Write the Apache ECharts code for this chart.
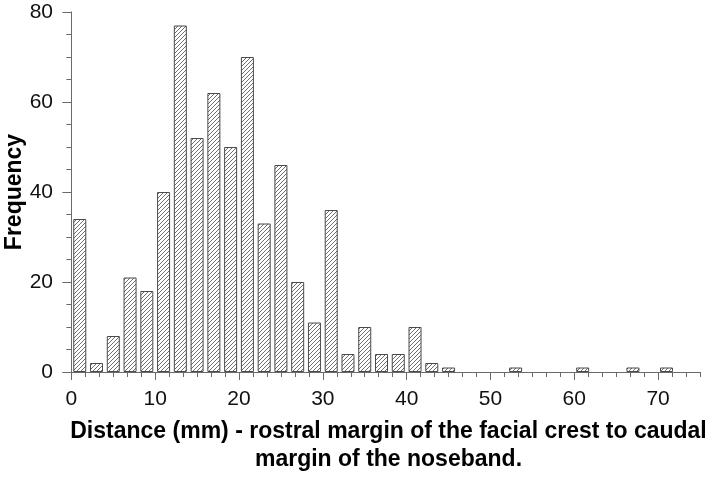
<!DOCTYPE html>
<html>
<head>
<meta charset="utf-8">
<script src="https://cdn.jsdelivr.net/npm/echarts@6/dist/echarts.min.js"></script>
<style>
html,body{margin:0;padding:0;background:#fff;}
#c{width:714px;height:481px;}
</style>
</head>
<body>
<div id="c"></div>
<script>
// Bin centres (mm), bins are 2 mm wide
const binCenters = [1,3,5,7,9,11,13,15,17,19,21,23,25,27,29,31,33,35,37,39,41,43,45,47,49,51,53,55,57,59,61,63,65,67,69,71];
const frequency  = [34,2,8,21,18,40,77,52,62,50,70,33,46,20,11,36,4,10,4,4,10,2,1,0,0,0,1,0,0,0,1,0,0,1,0,1];
const xTickLabels = [0,10,20,30,40,50,60,70];
const yTickLabels = [0,20,40,60,80];

const minorX = [];
for (let i = 0; i <= 45; i++) minorX.push(+(i*10/6).toFixed(4));

// hatch pattern
const pc = document.createElement('canvas');
pc.width = 4; pc.height = 4;
const pctx = pc.getContext('2d');
pctx.fillStyle = '#ffffff';
pctx.fillRect(0,0,4,4);
pctx.fillStyle = '#6e6e6e';
for (let x = 0; x < 4; x++) for (let y = 0; y < 4; y++) {
  if ((x + y) % 4 === 3) pctx.fillRect(x, y, 1, 1);
}

const data = binCenters.map((c,i) => [c, frequency[i]]).filter(d => d[1] > 0);

const chart = echarts.init(document.getElementById('c'));
const axisColor = '#6a6a6a';
const ff = 'Liberation Sans, Arial, sans-serif';
chart.setOption({
  animation: false,
  grid: {left: 63, top: 12, width: 637, height: 360, containLabel: false, outerBoundsMode: 'none'},
  xAxis: [{
    type: 'value', min: -1, max: 75,
    axisLine: {show: true, onZero: false, lineStyle: {color: axisColor, width: 1}},
    axisTick: {show: true, customValues: xTickLabels, length: 8, lineStyle: {color: axisColor}},
    axisLabel: {customValues: xTickLabels, fontFamily: ff, fontSize: 21, color: '#111', margin: 17},
    splitLine: {show: false},
    name: 'Distance (mm) - rostral margin of the facial crest to caudal\nmargin of the noseband.',
    nameLocation: 'middle', nameGap: 46,
    nameTextStyle: {fontFamily: ff, fontSize: 23, fontWeight: 'bold', color: '#000', lineHeight: 28, padding: [0,0,0,14]}
  }, {
    type: 'value', min: -1, max: 75, position: 'bottom',
    axisLine: {show: false},
    axisTick: {show: true, customValues: minorX, length: 5, lineStyle: {color: axisColor}},
    axisLabel: {show: false},
    splitLine: {show: false}
  }],
  yAxis: {
    type: 'value', min: 0, max: 80, interval: 20,
    axisLine: {show: true, lineStyle: {color: axisColor, width: 1}},
    axisTick: {show: true, length: 9, lineStyle: {color: axisColor}},
    minorTick: {show: true, splitNumber: 4, length: 5, lineStyle: {color: axisColor}},
    axisLabel: {fontFamily: ff, fontSize: 21, color: '#111', margin: 10},
    splitLine: {show: false},
    name: 'Frequency', nameLocation: 'middle', nameGap: 37, nameRotate: 90, nameMoveOverlap: false,
    nameTextStyle: {fontFamily: ff, fontSize: 23, fontWeight: 'bold', color: '#000'}
  },
  series: [{
    type: 'bar', xAxisIndex: 0, data: data, barWidth: 13,
    itemStyle: {color: {image: pc, repeat: 'repeat'}, borderColor: '#4a4a4a', borderWidth: 1}
  }]
});
</script>
</body>
</html>
